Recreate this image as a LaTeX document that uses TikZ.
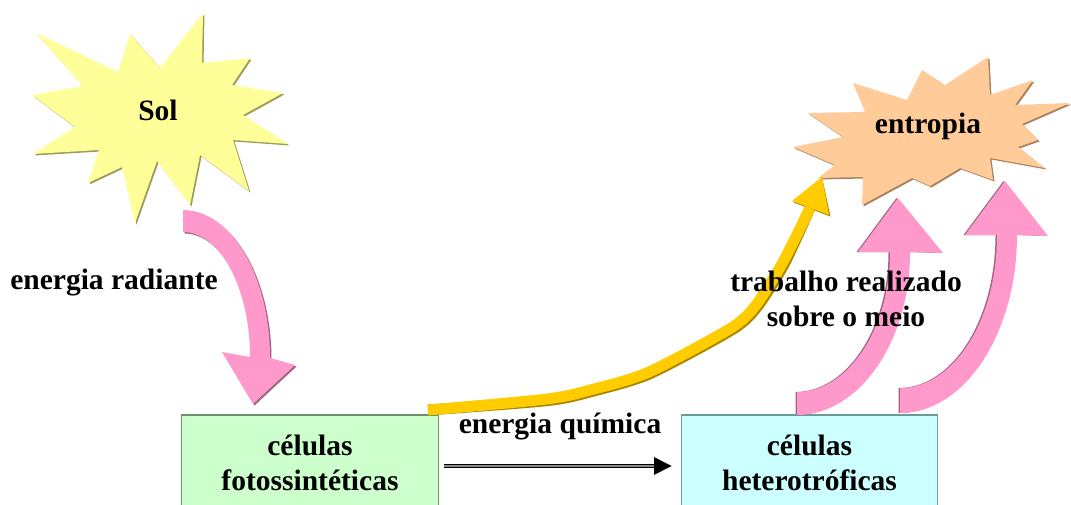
\documentclass[tikz,border=0pt]{standalone}
\usepackage{fontspec}
\setmainfont{Liberation Serif}
\usetikzlibrary{arrows.meta}

\definecolor{solfill}{HTML}{FFFF99}
\definecolor{soledge}{HTML}{9C9C5A}
\definecolor{entfill}{HTML}{FFCC99}
\definecolor{entedge}{HTML}{A8825E}
\definecolor{pinkfill}{HTML}{FF99CC}
\definecolor{pinkedge}{HTML}{9E6482}
\definecolor{goldfill}{HTML}{FFCC00}
\definecolor{goldedge}{HTML}{A88600}
\definecolor{fotofill}{HTML}{CCFFCC}
\definecolor{fotoedge}{HTML}{6F8F6F}
\definecolor{hetfill}{HTML}{CCFFFF}
\definecolor{hetedge}{HTML}{6A9A9A}

\begin{document}
\begin{tikzpicture}%
	[x={(0.02cm,0cm)},
	y={(0cm,-0.02cm)},
	txt/.style={font=\bfseries\fontsize{16.8}{19.8}\selectfont, inner sep=0pt, align=center},
	cellbox/.style={txt, line width=0.8pt, minimum width=5.13cm, minimum height=1.92cm},
	goldshaft/.style={line width=6.2pt, line join=round}]
%
\path[use as bounding box] (0,0) rectangle (1071,504);
\clip (0,0) rectangle (1071,504);
%%
%% Drawing the stars
%%
\foreach \c/\d in {soledge/1.5, solfill/0}
\fill[\c, shift={(\d,\d)}] (36,33) -- (118,72) -- (130,34) -- (160,68) -- (203,13) -- (202,63)
  -- (250,58) -- (232,85) -- (283,93) -- (243,115) -- (288,144) -- (233,140) -- (249,191)
  -- (200,155) -- (190,205) -- (157,161) -- (135,223) -- (122,167) -- (88,183) -- (99,150)
  -- (33,154) -- (75,127) -- (32,95) -- (83,86) -- cycle;
\foreach \c/\d in {entedge/1.5, entfill/0}
\fill[\c, shift={(\d,\d)}] (793,147) -- (843,137) -- (808,113) -- (865,112) -- (853,83) -- (907,100)
  -- (922,70) -- (945,85) -- (988,57) -- (990,95) -- (1033,80) -- (1015,105) -- (1070,103)
  -- (1022,124) -- (1038,140) -- (1018,147) -- (1045,168) -- (990,158) -- (993,180) -- (960,168)
  -- (930,186) -- (912,178) -- (862,205) -- (863,177) -- (818,178) -- (835,165) -- cycle;
\node[txt] (sol) at (158,110) {Sol};
\node[txt] (entropia) at (928,126) {entropia};
%%
%% Drawing the cells
%%
\node[cellbox, draw=fotoedge, fill=fotofill] (foto) at (310,463) {células\\fotossintéticas};
\node[cellbox, draw=hetedge, fill=hetfill] (hetero) at (809.5,463) {células\\heterotróficas};
%%
%% Drawing the pink arrows
%%
\foreach \c/\d in {pinkedge/1.5, pinkfill/0}
\fill[\c, shift={(\d,\d)}] (183,210) .. controls (231,210) and (270,276) .. (270,358) -- (295,365)
  -- (253,404) -- (222,352) -- (250,357) .. controls (250,288) and (220,232) .. (183,232) -- cycle;
\foreach \c/\d in {pinkedge/-1.5, pinkfill/0}
{
\fill[\c, shift={(\d,0)}] (797,415) .. controls (859,415) and (910,342) .. (910,252) -- (943,253)
  -- (898,198) -- (858,252) -- (890,252) .. controls (890,329) and (848,392) .. (797,392) -- cycle;
\fill[\c, shift={(\d,0)}] (900,413) .. controls (965,413) and (1017,333) .. (1017,235) -- (1048,236)
  -- (1005,181) -- (965,235) -- (997,235) .. controls (997,320) and (954,388) .. (900,388) -- cycle;
}
%%
%% Drawing the work arrow
%%
\coordinate (gtail) at (428,410);
\coordinate (gbase) at (810,208);
\coordinate (gtip) at (822,177);
\foreach \c/\d in {goldedge/1.5, goldfill/0}
{
\draw[goldshaft, \c, shift={(\d,\d)}] plot[smooth, tension=0.45] coordinates
  {(gtail) (547,399) (594,389) (649,372) (731,328) (756,305) (783,262) (gbase)};
\fill[\c, shift={(\d,\d)}] (792,201) -- (gtip) -- (829,215) -- cycle;
}
%%
%% Drawing the chemical energy arrow
%%
\draw[line width=0.7pt, double=black!45, double distance=0.9pt,
  -{Triangle[length=10pt, width=10pt]}] ([shift={(5,3)}]foto.east) -- ([shift={(-9,3)}]hetero.west);
%%
%% Labels
%%
\node[txt] (radiante) at (114,283) {energia radiante};
\node[txt] (quimica) at (560,426) {energia química};
\node[txt] (trabalho) at (846,299) {trabalho realizado\\sobre o meio};

\end{tikzpicture}
\end{document}
